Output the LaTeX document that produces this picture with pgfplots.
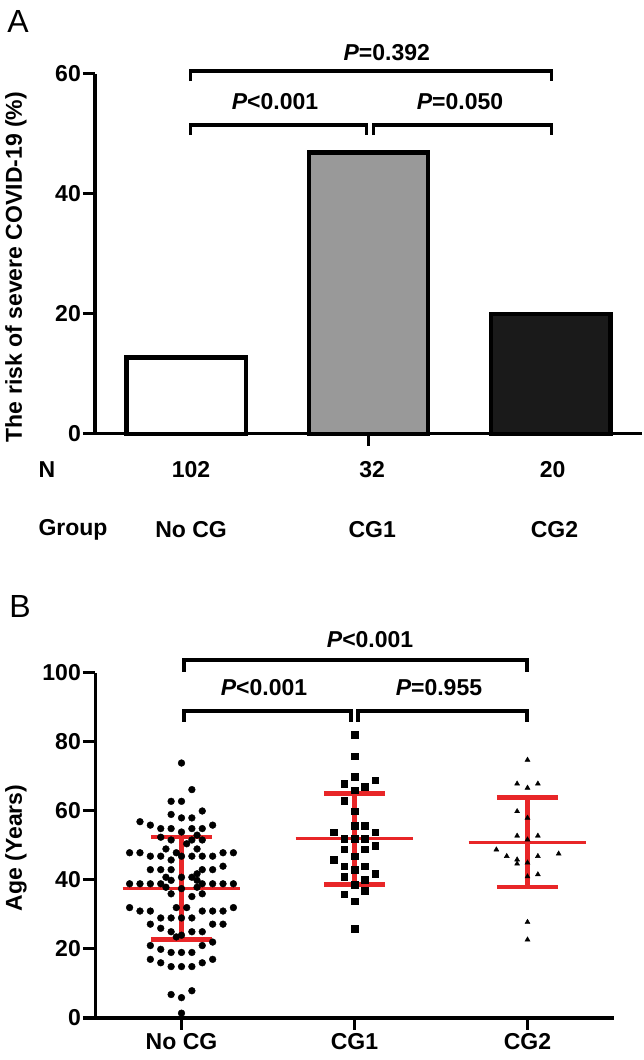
\documentclass[border=0pt]{standalone}
\usepackage{fontspec}
\setmainfont{Liberation Sans}
\usepackage{pgfplots}
\pgfplotsset{compat=1.18}
\definecolor{myred}{RGB}{232,38,40}
\definecolor{bargray}{RGB}{153,153,153}
\definecolor{bardark}{RGB}{26,26,26}
\newcommand\ff{\fontsize{23bp}{27bp}\selectfont\bfseries}
\newcommand\pv[1]{{\itshape P}#1}
\pgfplotsset{
  common/.style={
    scale only axis, anchor=south west,
    axis x line*=bottom, axis y line*=left,
    axis line style={line width=3bp},
    xmin=-0.5, xmax=2.5,
    tick align=outside, major tick length=12bp,
    every tick/.style={black, line width=3bp},
    tick label style={font=\ff},
    yticklabel style={inner sep=2bp},
    /pgf/number format/assume math mode=true,
    clip=false,
  },
  bracket/.style={black, line width=3.5bp, mark=none},
  meanline/.style={myred, line width=3bp, mark=none},
  sdline/.style={myred, line width=4.5bp, mark=none},
}
\begin{document}
\begin{tikzpicture}
\path[use as bounding box] (0,0) rectangle (644bp,1060bp);
% ---------------- Panel A ----------------
\begin{axis}[common, at={(95bp,626bp)}, width=547bp, height=360bp,
  ymin=0, ymax=60, ytick={0,20,40,60},
  xtick={1}, xticklabels={}]
\addplot[ybar, bar width=0.655, bar shift=0pt, fill=white, draw=black, line width=4.5bp] coordinates {(0,12.75)};
\addplot[ybar, bar width=0.655, bar shift=0pt, fill=bargray, draw=black, line width=4.5bp] coordinates {(1,46.9)};
\addplot[ybar, bar width=0.655, bar shift=0pt, fill=bardark, draw=black, line width=4.5bp] coordinates {(2,20.0)};
\addplot[bracket] coordinates {(0.024,58.8) (0.024,60.5) (2.003,60.5) (2.003,58.8)};
\addplot[bracket] coordinates {(0.024,49.8) (0.024,51.5) (0.989,51.5) (0.989,49.8)};
\addplot[bracket] coordinates {(1.027,49.8) (1.027,51.5) (2.003,51.5) (2.003,49.8)};
\node[font=\ff] at (axis cs:1.10,63.6) {\pv{=0.392}};
\node[font=\ff] at (axis cs:0.487,55.4) {\pv{<0.001}};
\node[font=\ff] at (axis cs:1.502,55.4) {\pv{=0.050}};
\node[font=\ff, anchor=west] at (axis cs:-0.829,-6) {N};
\node[font=\ff] at (axis cs:0.027,-6) {102};
\node[font=\ff] at (axis cs:1.02,-6) {32};
\node[font=\ff] at (axis cs:2.01,-6) {20};
\node[font=\ff, anchor=west] at (axis cs:-0.829,-16) {Group};
\node[font=\ff] at (axis cs:0.027,-16) {No CG};
\node[font=\ff] at (axis cs:1.02,-16) {CG1};
\node[font=\ff] at (axis cs:2.02,-16) {CG2};
\end{axis}
\node[font=\ff, rotate=90] at (16bp,793bp) {The risk of severe COVID-19 (\%)};
\node[font=\fontsize{32bp}{36bp}\selectfont] at (18bp,1038bp) {A};
% ---------------- Panel B ----------------
\begin{axis}[common, at={(95bp,42bp)}, width=519bp, height=345bp,
  ymin=0, ymax=100, ytick={0,20,40,60,80,100},
  xtick={0,1,2}, xticklabels={No CG,CG1,CG2}]
% No CG (n=102)
\addplot[only marks, mark=*, mark size=3.4bp, black] coordinates {
(0,73.9) (0.06,66.2) (-0.06,62.8) (0,62.8) (0.12,60.0) (-0.06,59.0) (0,58.0) (0.06,58.0)
(-0.24,56.9) (-0.18,55.9) (0.18,55.9) (-0.12,54.9) (-0.06,54.9) (0.06,54.9) (0.12,54.9)
(0,53.9) (0.09,53.0) (-0.12,52.4) (-0.06,51.6) (0.06,51.6) (0.12,51.6) (0.03,50.5)
(-0.09,49.0) (0.09,49.0) (-0.30,47.9) (-0.24,47.9) (0.24,47.9) (0.30,47.9) (-0.03,47.9)
(-0.18,46.9) (-0.12,46.9) (0,46.9) (0.06,46.9) (0.12,46.9) (0.18,46.9) (-0.06,45.8)
(0.24,44.0) (-0.18,43.0) (-0.12,43.0) (-0.06,43.0) (0.12,43.0) (0.18,43.0) (0.09,41.8)
(-0.09,40.8) (0,40.8) (0.06,40.8) (-0.06,39.9) (0.09,39.9)
(-0.30,38.9) (-0.24,38.9) (-0.18,38.9) (-0.12,38.9) (0.12,38.9) (0.18,38.9) (0.24,38.9) (0.30,38.9)
(-0.09,37.9) (0.09,37.9) (0,37.5) (-0.06,36.0) (0.12,36.0) (0.06,35.2)
(-0.30,32.0) (-0.03,32.0) (0.03,32.0) (0.30,32.0)
(-0.24,31.0) (-0.18,31.0) (0.12,31.0) (0.18,31.0) (0.24,31.0)
(-0.12,29.0) (-0.06,29.0) (0,29.0) (0.06,29.0) (-0.18,27.2) (0.18,27.2) (0.24,27.2)
(-0.12,26.0) (-0.06,25.0) (0.06,25.0) (0.12,25.0) (0,24.0) (-0.03,23.5) (0.18,22.0)
(-0.18,21.0) (0.12,21.0) (-0.12,19.9) (-0.06,19.0) (0,19.0) (0.06,19.0)
(-0.18,17.0) (0.18,17.0) (-0.12,16.0) (0.12,16.0) (-0.06,14.9) (0,14.9) (0.06,14.9)
(0.06,7.9) (-0.06,6.8) (0,5.9) (0,1.4)
};
% CG1 (n=32)
\addplot[only marks, mark=square*, mark size=3.3bp, black] coordinates {
(1,82.2) (1,75.9) (1,70.0) (1.12,68.9) (0.94,67.9) (1.06,67.0) (1,66.0) (0.94,62.9)
(1,59.9) (1,55.8) (1.06,55.8) (0.88,53.9) (1.12,53.9) (0.94,52.0) (1,52.0) (1.06,52.0)
(1.12,50.0) (0.94,48.9) (1.06,48.9) (1,46.9) (0.88,45.9) (0.94,44.0) (1.06,44.0)
(1,43.0) (1.12,41.8) (0.94,40.9) (1.06,40.1) (1,38.7) (1.06,36.9) (0.94,35.9)
(1,33.8) (1,25.8)
};
% CG2 (n=20)
\addplot[only marks, mark=triangle*, mark size=2.9bp, black] coordinates {
(2,74.8) (1.94,67.9) (2.06,67.9) (2,66.7) (1.94,59.9) (2,58.0) (1.94,52.8) (2.06,52.8)
(2,51.7) (1.82,48.8) (2.18,47.6) (1.88,46.9) (2.06,46.9) (1.94,45.9) (1.94,44.7)
(2,45.0) (2.06,41.6) (2,41.0) (2,27.8) (2,22.7)
};
% mean +/- SD
\addplot[meanline] coordinates {(-0.34,37.6) (0.34,37.6)};
\addplot[sdline] coordinates {(0,22.8) (0,52.4)};
\addplot[sdline] coordinates {(-0.177,52.4) (0.177,52.4)};
\addplot[sdline] coordinates {(-0.177,22.8) (0.177,22.8)};
\addplot[meanline] coordinates {(0.66,51.9) (1.34,51.9)};
\addplot[sdline] coordinates {(1,38.7) (1,65.0)};
\addplot[sdline] coordinates {(0.823,65.0) (1.177,65.0)};
\addplot[sdline] coordinates {(0.823,38.7) (1.177,38.7)};
\addplot[meanline] coordinates {(1.66,50.9) (2.34,50.9)};
\addplot[sdline] coordinates {(2,38.0) (2,63.9)};
\addplot[sdline] coordinates {(1.823,63.9) (2.177,63.9)};
\addplot[sdline] coordinates {(1.823,38.0) (2.177,38.0)};
% brackets
\addplot[bracket] coordinates {(0.014,100.3) (0.014,103.8) (1.997,103.8) (1.997,100.3)};
\addplot[bracket] coordinates {(0.014,85.8) (0.014,89.0) (0.98,89.0) (0.98,85.8)};
\addplot[bracket] coordinates {(1.02,85.8) (1.02,89.0) (1.997,89.0) (1.997,85.8)};
\node[font=\ff] at (axis cs:1.09,109.6) {\pv{<0.001}};
\node[font=\ff] at (axis cs:0.477,95.9) {\pv{<0.001}};
\node[font=\ff] at (axis cs:1.488,95.9) {\pv{=0.955}};
\end{axis}
\node[font=\ff, rotate=90] at (16bp,212bp) {Age (Years)};
\node[font=\fontsize{32bp}{36bp}\selectfont] at (20bp,454bp) {B};
\end{tikzpicture}
\end{document}
